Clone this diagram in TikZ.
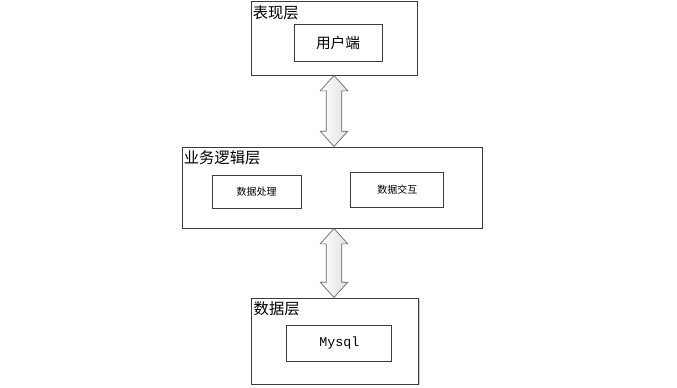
\documentclass[tikz,border=0pt]{standalone}
\usepackage{fontspec}
\setmainfont{Noto Sans CJK SC}
\newfontfamily\monofnt{Liberation Mono}
\usetikzlibrary{positioning,calc,shapes.arrows,shadows}
\definecolor{Ink}{HTML}{3C3C3C}

\begin{document}
\begin{tikzpicture}[
    layer/.style={draw=Ink,line width=0.75pt,fill=white,drop shadow={shadow xshift=0.8pt,shadow yshift=-0.8pt,fill=black!20,opacity=1},inner sep=0pt},
    inbox/.style={draw=Ink,line width=0.75pt,fill=white,inner sep=0pt,align=center},
    title/.style={anchor=north west,inner sep=0pt,font=\fontsize{11.5pt}{13pt}\selectfont},
    fatarrow/.style={shape=double arrow,rotate=90,draw=Ink!80,line width=0.5pt,inner xsep=0pt,inner ysep=5.6pt,double arrow head extend=4.5pt,double arrow tip angle=84,left color=white,right color=black!12}
  ]
    \useasboundingbox (0,0) rectangle (507.75pt,-290.25pt);
    \node[layer,minimum width=124.5pt,minimum height=55.5pt] (pres) at (250.5pt,-28.5pt) {};
    \node[layer,minimum width=225pt,minimum height=60.75pt,below=53.25pt of pres,xshift=-1.5pt] (logic) {};
    \node[layer,minimum width=125.25pt,minimum height=64.5pt,below=51.75pt of logic,xshift=2.6pt] (data) {};
    % layer titles
    \node[title] (presT) at ([xshift=1.5pt,yshift=-3.5pt]pres.north west) {表现层};
    \node[title] (logicT) at ([xshift=1.5pt,yshift=-3pt]logic.north west) {业务逻辑层};
    \node[title] (dataT) at ([xshift=1.5pt,yshift=-3pt]data.north west) {数据层};
    % inner boxes
    \node[inbox,minimum width=66pt,minimum height=27.75pt,font=\fontsize{11pt}{13pt}\selectfont,xshift=3pt,yshift=-3.4pt] (client) at (pres) {用户端};
    \node[inbox,minimum width=66.75pt,minimum height=24.75pt,font=\fontsize{7.5pt}{9pt}\selectfont,xshift=-56.6pt,yshift=-3pt] (proc) at (logic) {数据处理};
    \node[inbox,minimum width=69.75pt,minimum height=26.25pt,font=\fontsize{7.5pt}{9pt}\selectfont,xshift=49.1pt,yshift=-1.5pt] (xchg) at (logic) {数据交互};
    \node[inbox,minimum width=78.75pt,minimum height=27pt,font=\monofnt\fontsize{10pt}{12pt}\selectfont,xshift=3pt,yshift=-1.5pt] (mysql) at (data) {Mysql};
    % links between layers
    \node[fatarrow,minimum height=53.25pt] (up) at ($(pres.south)!.5!(logic.north -| pres.south)$) {};
    \node[fatarrow,minimum height=51.75pt] (down) at ($(logic.south -| up)!.5!(data.north -| up)$) {};
\end{tikzpicture}
\end{document}
